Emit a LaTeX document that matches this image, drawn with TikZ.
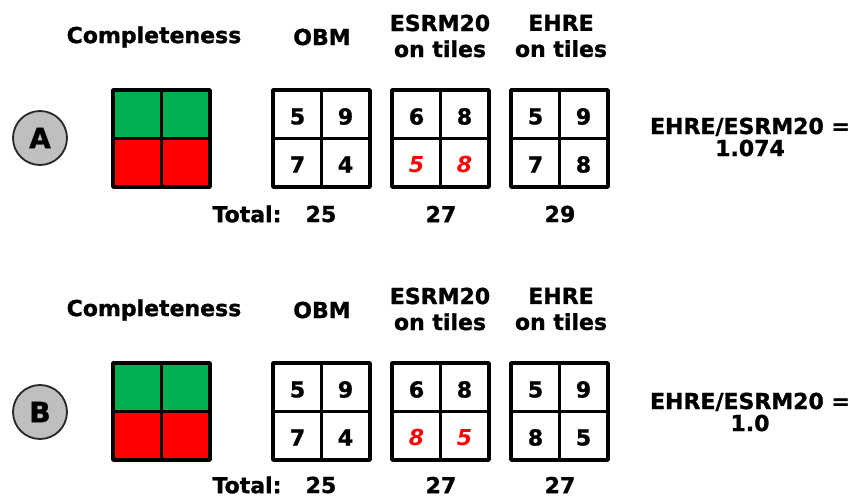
\documentclass[tikz,border=0pt]{standalone}
\usepackage{fontspec}
\setmainfont{DejaVu Sans}[BoldFeatures={FakeBold=1.2}]
\definecolor{okgreen}{RGB}{0,176,80}
\definecolor{badred}{RGB}{255,0,0}
\definecolor{discgray}{RGB}{191,191,191}
\tikzset{
  lbl/.style={font=\fontsize{22}{26}\selectfont\bfseries, align=center, inner sep=0pt},
  ratio/.style={font=\fontsize{22}{22}\selectfont\bfseries, align=center, inner sep=0pt},
  num/.style={font=\fontsize{22}{26}\selectfont\bfseries, inner sep=0pt},
  disc/.style={circle, draw=black!85, line width=1.8pt, fill=discgray, minimum size=54pt,
    inner sep=0pt, font=\fontsize{28}{30}\selectfont\bfseries},
  box/.style={line width=3.6pt, line join=round},
}
% a 2x2 tile box: name, left, top, four values
\newcommand\tilebox[7]{
  \begin{scope}[shift={(#2,#3)}]
    \draw[box] (0,0) rectangle (97,97);
    \draw[box] (48.5,0) -- (48.5,97);
    \draw[box] (0,48.5) -- (97,48.5);
    \node[num] (#1-tl) at (24.5,26.5) {#4};
    \node[num] (#1-tr) at (72.5,26.5) {#5};
    \node[num] (#1-bl) at (24.5,74.5) {#6};
    \node[num] (#1-br) at (72.5,74.5) {#7};
  \end{scope}
}
\newcommand\swapped[1]{\textcolor{badred}{\itshape #1}}
\begin{document}
\begin{tikzpicture}[x=1pt, y=-1pt]
  \useasboundingbox (0,0) rectangle (858,498);

  % row A
  \node[lbl] (headCompA) at (154,37) {Completeness};
  \node[lbl] (headObmA) at (322,37) {OBM};
  \node[lbl] (headEsrmA) at (440,36) {ESRM20\\on tiles};
  \node[lbl] (headEhreA) at (561,36) {EHRE\\on tiles};
  \node[disc] (caseA) at (40,138) {A};
  \fill[okgreen] (113,90) rectangle (210,138.5);
  \fill[badred] (113,138.5) rectangle (210,187);
  \draw[box] (113,90) rectangle (210,187);
  \draw[box] (161.5,90) -- (161.5,187);
  \draw[box] (113,138.5) -- (210,138.5);
  \tilebox{obmA}{273}{90}{5}{9}{7}{4}
  \tilebox{esrmA}{392}{90}{6}{8}{\swapped{5}}{\swapped{8}}
  \tilebox{ehreA}{511}{90}{5}{9}{7}{8}
  \node[ratio] (ratioA) at (750,137) {EHRE/ESRM20 =\\1.074};
  \node[lbl] (totalA) at (247,214) {Total:};
  \node[lbl] (sumObmA) at (321,214) {25};
  \node[lbl] (sumEsrmA) at (441,214) {27};
  \node[lbl] (sumEhreA) at (560,214) {29};

  % row B
  \begin{scope}[shift={(0,273)}]
    \node[lbl] (headCompB) at (154,37) {Completeness};
    \node[lbl] (headObmB) at (322,37) {OBM};
    \node[lbl] (headEsrmB) at (440,36) {ESRM20\\on tiles};
    \node[lbl] (headEhreB) at (561,36) {EHRE\\on tiles};
    \node[disc] (caseB) at (40,139) {B};
    \fill[okgreen] (113,90) rectangle (210,138.5);
    \fill[badred] (113,138.5) rectangle (210,187);
    \draw[box] (113,90) rectangle (210,187);
    \draw[box] (161.5,90) -- (161.5,187);
    \draw[box] (113,138.5) -- (210,138.5);
    \tilebox{obmB}{273}{90}{5}{9}{7}{4}
    \tilebox{esrmB}{392}{90}{6}{8}{\swapped{8}}{\swapped{5}}
    \tilebox{ehreB}{511}{90}{5}{9}{8}{5}
    \node[ratio] (ratioB) at (750,139) {EHRE/ESRM20 =\\1.0};
    \node[lbl] (totalB) at (247,212) {Total:};
    \node[lbl] (sumObmB) at (321,212) {25};
    \node[lbl] (sumEsrmB) at (441,212) {27};
    \node[lbl] (sumEhreB) at (560,212) {27};
  \end{scope}
\end{tikzpicture}
\end{document}
